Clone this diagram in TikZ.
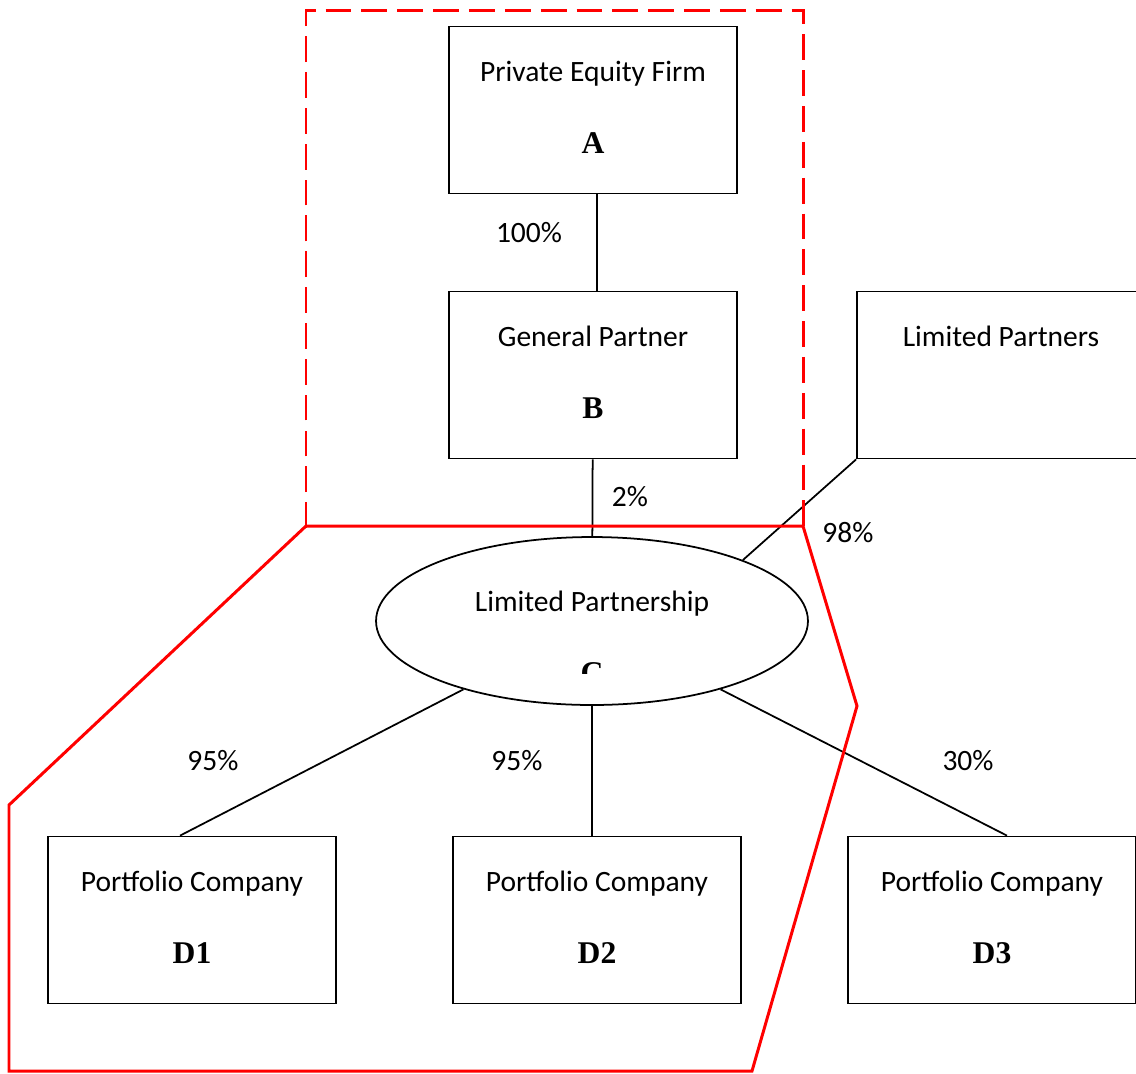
\documentclass[tikz,border=0pt]{standalone}
\usepackage{fontspec}
\newfontfamily\calib{Carlito}
\newfontfamily\tms{Liberation Serif}
\usetikzlibrary{shapes.geometric}
\newcommand{\entlet}[1]{{\tms\bfseries\fontsize{18}{20}\selectfont #1}\rule[-3.4pt]{0pt}{3.4pt}}

\begin{document}
\begin{tikzpicture}[x=0.02cm,y=-0.02cm,
  font=\calib\fontsize{16.8}{20}\selectfont,
  entity/.style={draw,line width=1pt,minimum width=5.76cm,minimum height=3.34cm,align=center},
  lpship/.style={draw,ellipse,line width=1pt,minimum width=8.64cm,minimum height=3.36cm,inner sep=0pt},
  owns/.style={line width=1pt},
  ring/.style={draw=red,line width=1.7pt}]

\clip (0,0) rectangle (1136,1073);

\node[entity] (A) at (593,110) {Private Equity Firm\\[21pt]\entlet{A}};
\node[entity] (B) at (593,375) {General Partner\\[21pt]\entlet{B}};
\node[entity] (LP) at (1001,375) {Limited Partners\\[21pt]\entlet{\phantom{B}}};
\node[lpship] (C) at (592,621) {};
\node (Ct) at (592,604) {Limited Partnership};
\begin{scope}
  \clip (480,640) rectangle (700,673);
  \node (Cl) at (592,676) {\entlet{C}};
\end{scope}
\node[entity] (D1) at (192,920) {Portfolio Company\\[21pt]\entlet{D1}};
\node[entity] (D2) at (597,920) {Portfolio Company\\[21pt]\entlet{D2}};
\node[entity] (D3) at (992,920) {Portfolio Company\\[21pt]\entlet{D3}};

% ownership shares
\node (pA) at (529,233) {100\%};
\node (pB) at (630,497) {2\%};
\node (pLP) at (848,533) {98\%};
\node (pD1) at (213,761) {95\%};
\node (pD2) at (517,761) {95\%};
\node (pD3) at (968,761) {30\%};

\path[owns]
    ([xshift=0.08cm]A.south) edge ([xshift=0.08cm]B.north)
    (B) edge (C)
    (LP.south west) edge (C.22)
    (C.208) edge ([xshift=-0.24cm]D1.north)
    (C.south) edge (C.south |- D2.north)
    (C.332) edge ([xshift=0.3cm]D3.north);

\draw[ring,dash pattern=on 14.7pt off 5.7pt] (306,528) -- (306,10) -- (803,10) -- (803,528);
\draw[ring] (306,526) -- (803,526) -- (857,706) -- (752,1071) -- (9,1071) -- (9,805) -- cycle;

\end{tikzpicture}
\end{document}
